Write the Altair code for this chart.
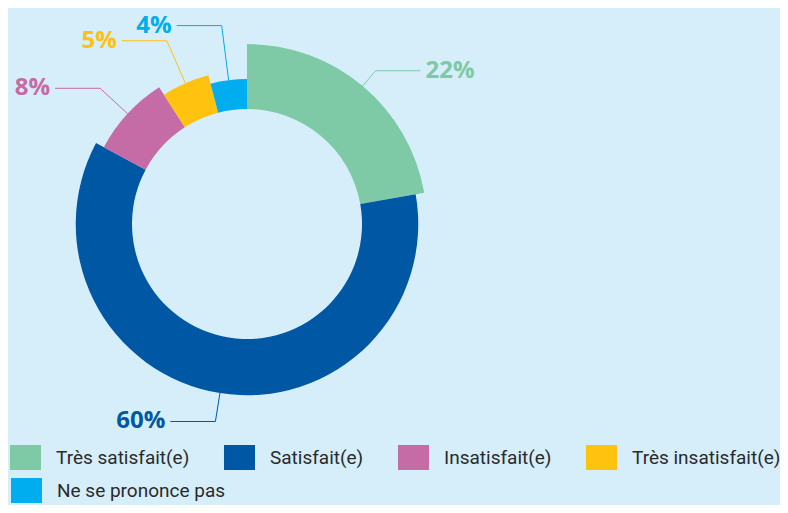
import altair as alt
import pandas as pd

# ---- data ----
cats = ["Très satisfait(e)", "Satisfait(e)", "Insatisfait(e)", "Très insatisfait(e)", "Ne se prononce pas"]
values = [22, 60, 8, 5, 4]
colors = ["#7ecaa7", "#0057a4", "#c56ba6", "#ffc20f", "#00adee"]

# ---- layout / style ----
BG = "#d6eefa"
W, H = 772, 497
CX, CY = 239, 216
R_IN = 115
R_OUT, R_MIN = 180, 145
ELBOW_R = 200
LEN = 45
LEG_FONT = "Roboto"
LEG_SIZE = 19
SYM = "M-1,-0.806L1,-0.806L1,0.806L-1,0.806Z"

n = len(cats)
step = (R_OUT - R_MIN) / (n - 1)

df = pd.DataFrame({"cat": cats, "value": values, "idx": list(range(n))})

xs = alt.Scale(domain=[0, W], nice=False, zero=False)
ys = alt.Scale(domain=[H, 0], nice=False, zero=False)

geo = (
    alt.Chart(df)
    .transform_joinaggregate(total="sum(value)")
    .transform_window(cum="sum(value)", sort=[alt.SortField("idx")], frame=[None, 0])
    .transform_calculate(t0="2*PI*(datum.cum - datum.value)/datum.total")
    .transform_calculate(t1="2*PI*datum.cum/datum.total")
    .transform_calculate(mid="(datum.t0 + datum.t1)/2")
    .transform_calculate(r0=f"{R_OUT} - datum.idx*{step}")
    .transform_calculate(x0=f"{CX} + datum.r0*sin(datum.mid)")
    .transform_calculate(y0=f"{CY} - datum.r0*cos(datum.mid)")
    .transform_calculate(x1=f"{CX} + {ELBOW_R}*sin(datum.mid)")
    .transform_calculate(y1=f"{CY} - {ELBOW_R}*cos(datum.mid)")
    .transform_calculate(side="sin(datum.mid) >= 0 ? 1 : -1")
    .transform_calculate(x2=f"datum.x1 + datum.side*{LEN}")
    .transform_calculate(label="datum.value + '%'")
)

radius_enc = alt.Radius("idx:Q", stack=False,
                        scale=alt.Scale(type="linear", domain=[0, n - 1],
                                        range=[R_OUT, R_MIN], zero=False, nice=False))


def legend(x, y):
    return alt.Legend(
        title=None, orient="none", legendX=x, legendY=y, direction="horizontal",
        columnPadding=34, padding=0,
        symbolType=SYM, symbolSize=961, symbolStrokeWidth=0, symbolOpacity=1,
        labelOffset=15, labelFont=LEG_FONT, labelFontSize=LEG_SIZE,
        labelColor="#2a2a2a", labelLimit=300,
    )


# first four categories (legend row 1)
arcs_a = geo.transform_filter(alt.FieldOneOfPredicate(field="cat", oneOf=cats[:4])).mark_arc(
    innerRadius=R_IN).encode(
    theta=alt.Theta("t0:Q", scale=None),
    theta2=alt.Theta2("t1:Q"),
    radius=radius_enc,
    color=alt.Color("cat:N", scale=alt.Scale(domain=cats[:4], range=colors[:4]),
                    legend=legend(2, 434)),
    x=alt.value(CX),
    y=alt.value(CY),
)
# last category (legend row 2)
arcs_b = geo.transform_filter(alt.FieldOneOfPredicate(field="cat", oneOf=cats[4:])).mark_arc(
    innerRadius=R_IN).encode(
    theta=alt.Theta("t0:Q", scale=None),
    theta2=alt.Theta2("t1:Q"),
    radius=radius_enc,
    color=alt.Color("cat:N", scale=alt.Scale(domain=cats[4:], range=colors[4:]),
                    legend=legend(3, 467)),
    x=alt.value(CX),
    y=alt.value(CY),
)

lc = alt.Color("cat:N", scale=alt.Scale(domain=cats, range=colors), legend=None)

rule1 = geo.mark_rule(strokeWidth=1).encode(
    x=alt.X("x0:Q", scale=xs, axis=None),
    y=alt.Y("y0:Q", scale=ys, axis=None),
    x2="x1:Q", y2="y1:Q", color=lc,
)
rule2 = geo.mark_rule(strokeWidth=1).encode(
    x=alt.X("x1:Q", scale=xs, axis=None),
    y=alt.Y("y1:Q", scale=ys, axis=None),
    x2="x2:Q", y2="y1:Q", color=lc,
)

tstyle = dict(font="Open Sans", fontSize=24, fontWeight="bold", baseline="middle")
t_right = geo.transform_filter("datum.side > 0").mark_text(align="left", dx=5, **tstyle).encode(
    x=alt.X("x2:Q", scale=xs, axis=None),
    y=alt.Y("y1:Q", scale=ys, axis=None),
    text="label:N", color=lc,
)
t_left = geo.transform_filter("datum.side < 0").mark_text(align="right", dx=-5, **tstyle).encode(
    x=alt.X("x2:Q", scale=xs, axis=None),
    y=alt.Y("y1:Q", scale=ys, axis=None),
    text="label:N", color=lc,
)

chart = (
    alt.layer(arcs_a, arcs_b, rule1, rule2, t_right, t_left)
    .resolve_scale(color="independent")
    .properties(width=W, height=H, padding=0, autosize="none", background=BG)
    .configure_view(stroke=None)
)

chart.save("out.html", embed_options={"renderer": "svg", "actions": False})
